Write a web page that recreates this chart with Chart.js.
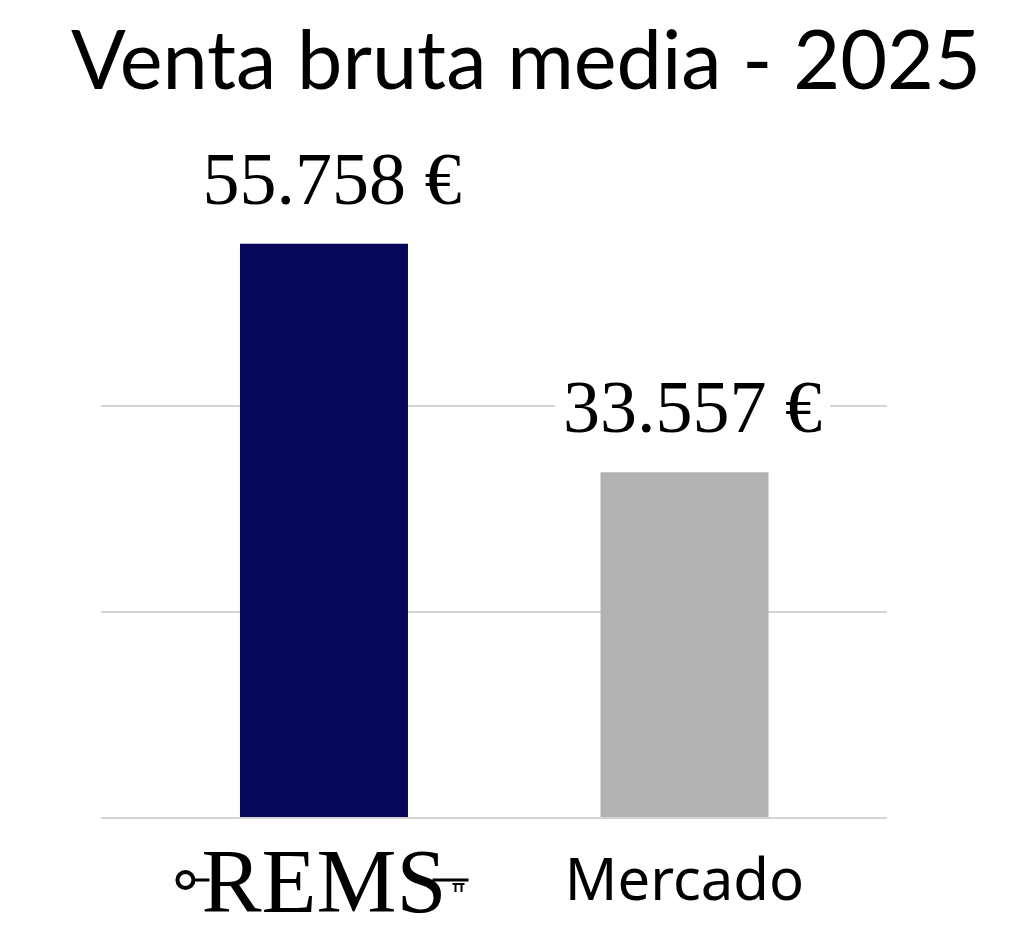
<!DOCTYPE html>
<html><head><meta charset="utf-8">
<script src="https://cdn.jsdelivr.net/npm/chart.js@4/dist/chart.umd.min.js"></script>
<style>html,body{margin:0;padding:0;background:#fff;} #wrap{width:1024px;height:940px;position:relative;}</style>
</head><body><div id="wrap"><canvas id="c" width="1024" height="940"></canvas></div>
<script>
const titleText = 'Venta bruta media - 2025';
const categories = ['REMS', 'Mercado'];
const values = [55758, 33557];
const barColors = ['#08085a', '#b2b2b2'];
const yTicks = [0, 20000, 40000, 60000];

function fmtEuro(v){ return String(v).replace(/\B(?=(\d{3})+(?!\d))/g, '.') + ' €'; }

const valueLabels = {
  id: 'valueLabels',
  afterDatasetsDraw(chart){
    const ctx = chart.ctx;
    const meta = chart.getDatasetMeta(0);
    ctx.save();
    ctx.font = '74px "Liberation Serif"';
    ctx.textAlign = 'center';
    ctx.textBaseline = 'alphabetic';
    meta.data.forEach((bar, i) => {
      const txt = fmtEuro(values[i]);
      const w = ctx.measureText(txt).width;
      const x = bar.x + 8;
      const y = bar.y - 40;
      ctx.fillStyle = '#fff';
      ctx.fillRect(x - w/2 - 8, y - 54, w + 16, 62);
      ctx.fillStyle = '#000';
      ctx.fillText(txt, x, y);
    });
    ctx.restore();
  }
};

const logoKey = {
  id: 'logoKey',
  afterDraw(chart){
    const sx = chart.scales.x;
    const ctx = chart.ctx;
    const cx = sx.getPixelForValue(0);
    ctx.save();
    ctx.font = '90px "Liberation Serif"';
    const w = ctx.measureText(categories[0]).width;
    const l = cx - w/2, r = cx + w/2;
    const y = sx.top + 62;
    ctx.strokeStyle = '#000';
    ctx.lineWidth = 4;
    ctx.beginPath(); ctx.arc(l - 16, y, 8, 0, Math.PI*2); ctx.stroke();
    ctx.lineWidth = 3;
    ctx.beginPath();
    ctx.moveTo(l - 8, y); ctx.lineTo(l + 8, y);
    ctx.moveTo(r - 14, y); ctx.lineTo(r + 22, y);
    ctx.stroke();
    ctx.lineWidth = 2;
    ctx.beginPath();
    ctx.moveTo(r + 6, y + 4); ctx.lineTo(r + 18, y + 4);
    ctx.moveTo(r + 9, y + 4); ctx.lineTo(r + 9, y + 12);
    ctx.moveTo(r + 15, y + 4); ctx.lineTo(r + 15, y + 12);
    ctx.stroke();
    ctx.restore();
  }
};

new Chart(document.getElementById('c'), {
  type: 'bar',
  data: {
    datasets: [{
      data: values.map((v, i) => ({x: i, y: v})),
      backgroundColor: barColors,
      borderWidth: 0,
      barPercentage: 0.466,
      categoryPercentage: 1,
      yAxisID: 'y'
    }]
  },
  options: {
    responsive: false,
    animation: false,
    devicePixelRatio: 1,
    layout: {padding: {left: 28, right: 0, top: 0, bottom: 0}},
    plugins: {
      legend: {display: false},
      tooltip: {enabled: false},
      title: {
        display: true, text: titleText, color: '#000',
        font: {family: 'Lato', size: 81, weight: 'normal', lineHeight: 1.2},
        padding: {top: 14, bottom: 88.8}
      }
    },
    scales: {
      x: {
        type: 'linear', min: -0.6185, max: 1.5617, offset: false,
        grid: {display: false}, border: {display: false},
        afterBuildTicks: (s) => { s.ticks = categories.map((c, i) => ({value: i})); },
        afterFit: (s) => { s.height = 122; },
        ticks: {
          padding: 17, maxRotation: 0, autoSkip: false, color: '#000',
          callback: (v) => categories[v],
          font: (ctx) => ctx.index === 0
            ? {family: 'Liberation Serif', size: 90, lineHeight: 1}
            : {family: 'Noto Sans', size: 58, lineHeight: 80/58}
        }
      },
      y: {
        position: 'left',
        min: 0, max: 60000,
        afterBuildTicks: (s) => { s.ticks = yTicks.map(v => ({value: v})); },
        afterFit: (s) => { s.width = 73; },
        ticks: {display: false},
        border: {display: false},
        grid: {
          drawTicks: false, tickLength: 0, lineWidth: 2,
          color: (ctx) => (ctx.tick && ctx.tick.value === 60000) ? 'rgba(0,0,0,0)' : '#d4d4d4'
        }
      },
      yRight: {
        position: 'right',
        min: 0, max: 60000,
        afterFit: (s) => { s.width = 137; },
        ticks: {display: false},
        border: {display: false},
        grid: {display: false}
      }
    }
  },
  plugins: [valueLabels, logoKey]
});
</script>
</body></html>
